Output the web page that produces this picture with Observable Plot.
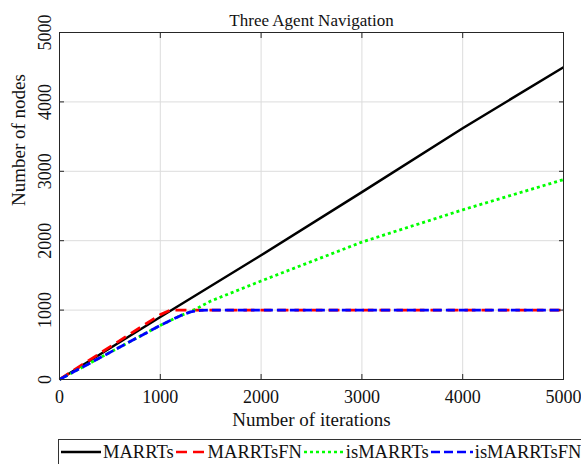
<!DOCTYPE html>
<html>
<head>
<meta charset="utf-8">
<script src="https://cdn.jsdelivr.net/npm/d3@7"></script>
<script src="https://cdn.jsdelivr.net/npm/@observablehq/plot@0.6"></script>
<style>
  html, body { margin: 0; padding: 0; background: #fff; }
  #wrap { width: 581px; height: 464px; overflow: hidden; position: relative; font-family: "Liberation Serif", "Times New Roman", serif; }
  #legend { position: absolute; left: 58px; top: 439px; width: 524px; height: 30px; border: 1px solid #333; box-sizing: border-box; background: #fff; display: flex; align-items: center; font-size: 18.5px; color: #111; white-space: nowrap; padding-bottom: 4px; }
  #legend .item { display: flex; align-items: center; }
  #legend svg { display: block; }
  #chart svg text { font-family: "Liberation Serif", "Times New Roman", serif; font-variant: normal; }
</style>
</head>
<body>
<div id="wrap"><div id="chart"></div><div id="legend"></div></div>
<script>
const title = "Three Agent Navigation";
const xLabel = "Number of iterations";
const yLabel = "Number of nodes";
const ticks = [0, 1000, 2000, 3000, 4000, 5000];
const tickLabels = ["0", "1000", "2000", "3000", "4000", "5000"];

const seriesNames = ["MARRTs", "MARRTsFN", "isMARRTs", "isMARRTsFN"];
const seriesColors = ["#000000", "#ff0000", "#00ff00", "#0000ff"];
const seriesDash = [null, "11,6", "3,3", "9,4"];

const marrtsX = [0, 1000, 2000, 3000, 4000, 5000];
const marrtsY = [0, 900, 1790, 2700, 3620, 4500];

const marrtsFNX = [0, 500, 1000, 1100, 5000];
const marrtsFNY = [0, 470, 935, 1000, 1000];

const isMarrtsX = [0, 1000, 1200, 1300, 1500, 2000, 3000, 4000, 5000];
const isMarrtsY = [0, 780, 920, 975, 1130, 1420, 1980, 2445, 2880];

const isMarrtsFNX = [0, 1000, 1200, 1300, 1400, 1500, 5000];
const isMarrtsFNY = [0, 780, 920, 975, 995, 1000, 1000];

const seriesX = [marrtsX, marrtsFNX, isMarrtsX, isMarrtsFNX];
const seriesY = [marrtsY, marrtsFNY, isMarrtsY, isMarrtsFNY];

const lineMarks = seriesNames.map((name, i) => {
  const data = seriesX[i].map((x, j) => ({x, y: seriesY[i][j]}));
  return Plot.line(data, {
    x: "x", y: "y",
    stroke: seriesColors[i],
    strokeWidth: i === 0 ? 2.5 : 2.8,
    strokeDasharray: seriesDash[i] || undefined,
    strokeLinecap: "butt"
  });
});

const fontSize = 18;
const serif = "'Liberation Serif', 'Times New Roman', serif";
const tickData = ticks.map((t, i) => ({t, label: tickLabels[i]}));

const chart = Plot.plot({
  width: 581,
  height: 437,
  marginLeft: 59,
  marginRight: 18,
  marginTop: 32,
  marginBottom: 58,
  style: { fontFamily: serif, fontSize: fontSize + "px", color: "#111", background: "#fff" },
  x: { domain: [0, 5000], ticks },
  y: { domain: [0, 5000], ticks },
  marks: [
    Plot.gridX(ticks, { stroke: "#dcdcdc", strokeOpacity: 1, strokeWidth: 1 }),
    Plot.gridY(ticks, { stroke: "#dcdcdc", strokeOpacity: 1, strokeWidth: 1 }),
    ...lineMarks,
    Plot.axisX(ticks, { anchor: "bottom", tickSize: -5, text: null, label: null, stroke: "#262626" }),
    Plot.axisX(ticks, { anchor: "top", tickSize: -5, text: null, label: null, stroke: "#262626" }),
    Plot.axisY(ticks, { anchor: "left", tickSize: -5, text: null, label: null, stroke: "#262626" }),
    Plot.axisY(ticks, { anchor: "right", tickSize: -5, text: null, label: null, stroke: "#262626" }),
    Plot.text(tickData, { x: "t", text: "label", frameAnchor: "bottom", lineAnchor: "middle", dy: 18, fontSize, fontFamily: serif, fill: "#111" }),
    Plot.text(tickData, { y: "t", text: "label", frameAnchor: "left", rotate: -90, textAnchor: "middle", lineAnchor: "bottom", dx: -9, fontSize, fontFamily: serif, fill: "#111" }),
    Plot.frame({ stroke: "#262626", strokeWidth: 1 }),
    Plot.text([title], { frameAnchor: "top", lineAnchor: "middle", dy: -12, fontSize: 17, fontFamily: serif, fill: "#111" }),
    Plot.text([xLabel], { frameAnchor: "bottom", lineAnchor: "middle", dy: 40, fontSize: 19, fontFamily: serif, fill: "#111" }),
    Plot.text([yLabel], { frameAnchor: "left", lineAnchor: "middle", dx: -41, rotate: -90, fontSize: 19, fontFamily: serif, fill: "#111" })
  ]
});
document.getElementById("chart").appendChild(chart);

// Legend
const legend = document.getElementById("legend");
const sampleWidths = [40, 30, 40, 42];
seriesNames.forEach((name, i) => {
  const item = document.createElement("div");
  item.className = "item";
  const w = sampleWidths[i];
  const svg = d3.create("svg").attr("width", w + 4).attr("height", 12);
  const ln = svg.append("line").attr("x1", 2).attr("x2", w + 2).attr("y1", 6).attr("y2", 6)
    .attr("stroke", seriesColors[i]).attr("stroke-width", 2.6);
  if (seriesDash[i]) ln.attr("stroke-dasharray", seriesDash[i]);
  item.appendChild(svg.node());
  const span = document.createElement("span");
  span.textContent = name;
  item.appendChild(span);
  legend.appendChild(item);
});
</script>
</body>
</html>
